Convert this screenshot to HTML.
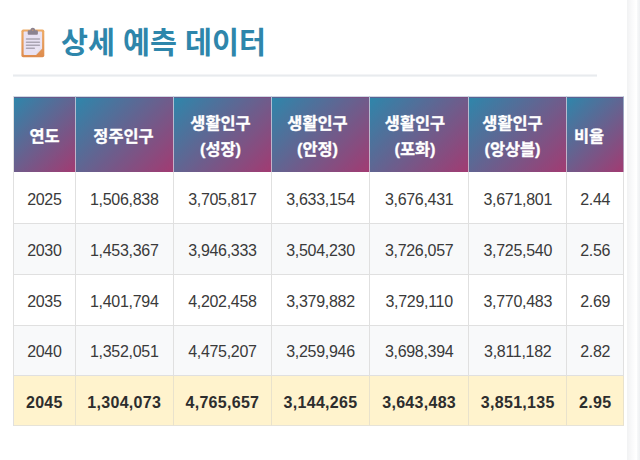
<!DOCTYPE html>
<html lang="ko">
<head>
<meta charset="utf-8">
<title>상세 예측 데이터</title>
<style>
*{box-sizing:border-box;margin:0;padding:0}
html,body{width:640px;height:460px;overflow:hidden;background:#fff}
body{font-family:"Liberation Sans",sans-serif;color:#333;position:relative}
.card{position:absolute;left:0;top:0;width:627px;height:460px;background:#fff}
.edge1{position:absolute;left:627px;top:0;width:9px;height:460px;background:linear-gradient(90deg,#f1f2f3,#fafafb 60%,#ffffff)}
.edge2{position:absolute;left:637px;top:0;width:3px;height:460px;background:linear-gradient(90deg,#f8f9fa,#eef0f2)}
h2{position:absolute;left:13px;top:10px;width:583px;height:66px;font-size:29px;font-weight:bold;color:#2E86AB}
h2 span{position:absolute;left:49px;top:14px;white-space:nowrap;color:transparent;font-size:27px;line-height:34px}
.rule{position:absolute;left:13px;top:74px;width:583.5px;height:3px;background:linear-gradient(#f3f4f6 0 1px,#e8ebee 1px 2px,#f1f3f5 2px 3px)}
table{position:absolute;left:13px;top:96px;border-collapse:separate;border-spacing:0;border-left:1px solid #e0e0e0;table-layout:fixed;width:611px}
th{height:76px;background:linear-gradient(135deg,#2E86AB 0%,#A23B72 100%);border-right:1px solid rgba(255,255,255,.55);border-top:1px solid rgba(255,255,255,.72);box-shadow:inset 0 1px 0 rgba(150,50,115,.4);padding:0;text-align:center;vertical-align:middle;font-size:15px;line-height:25.6px;font-weight:bold;color:transparent}
th{background-clip:padding-box}
thead tr{background:linear-gradient(#4E739E,#874C80)}
th:last-child{border-right:1px solid rgba(255,255,255,.12)}
td{border-right:1px solid #e0e0e0;border-bottom:1px solid #e0e0e0;text-align:center;vertical-align:middle;font-size:16px;letter-spacing:-.3px;padding:3px 0 0 0;color:#3a3a3a;background:#fff}
tbody tr:first-child td{padding-top:5px}
tr.alt td{background:#f8f9fa}
tr.hl td{background:#fff3cd;padding-top:5px;font-weight:bold;letter-spacing:.3px;color:#2d2d2d;border-right-color:#e9e2cc;border-bottom-color:#e6e3d8}
svg.ov{position:absolute;left:0;top:0;width:640px;height:460px;pointer-events:none}
svg.ov text{font-family:"Liberation Sans","Noto Sans CJK KR",sans-serif;font-weight:bold}
</style>
</head>
<body>
<div class="card">
<h2><span>상세 예측 데이터</span></h2>
<div class="rule"></div>
<table>
<thead><tr><th style="width:61px"><span>연도</span></th><th style="width:97px"><span>정주인구</span></th><th style="width:97px"><span>생활인구<br>(성장)</span></th><th style="width:97px"><span>생활인구<br>(안정)</span></th><th style="width:98px"><span>생활인구<br>(포화)</span></th><th style="width:97px"><span>생활인구<br>(앙상블)</span></th><th style="width:56px"><span>비율</span></th></tr></thead>
<tbody>
<tr class="" style="height:52px"><td>2025</td><td>1,506,838</td><td>3,705,817</td><td>3,633,154</td><td>3,676,431</td><td>3,671,801</td><td>2.44</td></tr>
<tr class="alt" style="height:51px"><td>2030</td><td>1,453,367</td><td>3,946,333</td><td>3,504,230</td><td>3,726,057</td><td>3,725,540</td><td>2.56</td></tr>
<tr class="" style="height:51px"><td>2035</td><td>1,401,794</td><td>4,202,458</td><td>3,379,882</td><td>3,729,110</td><td>3,770,483</td><td>2.69</td></tr>
<tr class="alt" style="height:50px"><td>2040</td><td>1,352,051</td><td>4,475,207</td><td>3,259,946</td><td>3,698,394</td><td>3,811,182</td><td>2.82</td></tr>
<tr class="hl" style="height:50px"><td>2045</td><td>1,304,073</td><td>4,765,657</td><td>3,144,265</td><td>3,643,483</td><td>3,851,135</td><td>2.95</td></tr>
</tbody>
</table>
</div>
<div class="edge1"></div><div class="edge2"></div>
<svg class="ov" viewBox="0 0 640 460">

<g>
<defs><linearGradient id="bd" x1="0" y1="0" x2="0" y2="1"><stop offset="0" stop-color="#EDAB66"/><stop offset="1" stop-color="#DE8C4E"/></linearGradient>
<linearGradient id="cl" x1="0" y1="0" x2="1" y2="1"><stop offset="0" stop-color="#F3EFF8"/><stop offset="1" stop-color="#CFC8DC"/></linearGradient></defs>
<rect x="21.4" y="29.4" width="22.9" height="27.8" rx="1.8" fill="url(#bd)"/>
<path d="M24.4 31.6H41.3Q42.1 31.6 42.1 32.4V48.5L35.9 55H24.4Q23.6 55 23.6 54.2V32.4Q23.6 31.6 24.4 31.6Z" fill="#E9E2F3"/>
<path d="M42.1 48.5L35.9 55Q36.7 52.4 36.1 49.8Q35.9 48.5 37.2 48.5Z" fill="url(#cl)"/>
<path d="M30.4 30.3A2.400 2.600 0 0 1 35.200 30.300H36.800Q37.900 30.300 37.900 31.400V33.800Q37.900 34.800 36.900 34.800H28.700Q27.700 34.800 27.700 33.800V31.400Q27.700 30.300 28.800 30.300Z" fill="#8C8390"/>
<circle cx="32.800" cy="30.100" r=".65" fill="#E9A45F"/>
<path d="M26.500 39H39.400M26.500 42.200H39.400M26.500 45.300H39.400M26.500 48.200H34.300" stroke="#ABA5B3" stroke-width="1.500" stroke-linecap="round" fill="none"/>
</g>
<g fill="#2E86AB"><text x="61" y="53" font-size="29.3">상세 예측 데이터</text></g>
<g fill="#ffffff" stroke="#ffffff" stroke-width="0.3" stroke-linejoin="round" font-size="16.4" text-anchor="middle">
<text x="44.500" y="141.600">연도</text>
<text x="123.500" y="141.600">정주인구</text>
<text x="220.500" y="129">생활인구</text>
<text x="220.500" y="154.600">(성장)</text>
<text x="317.500" y="129">생활인구</text>
<text x="317.500" y="154.600">(안정)</text>
<text x="415" y="129">생활인구</text>
<text x="415" y="154.600">(포화)</text>
<text x="512.500" y="129">생활인구</text>
<text x="512.500" y="154.600">(앙상블)</text>
<text x="589" y="141.600">비율</text>
</g>
</svg>
</body>
</html>
